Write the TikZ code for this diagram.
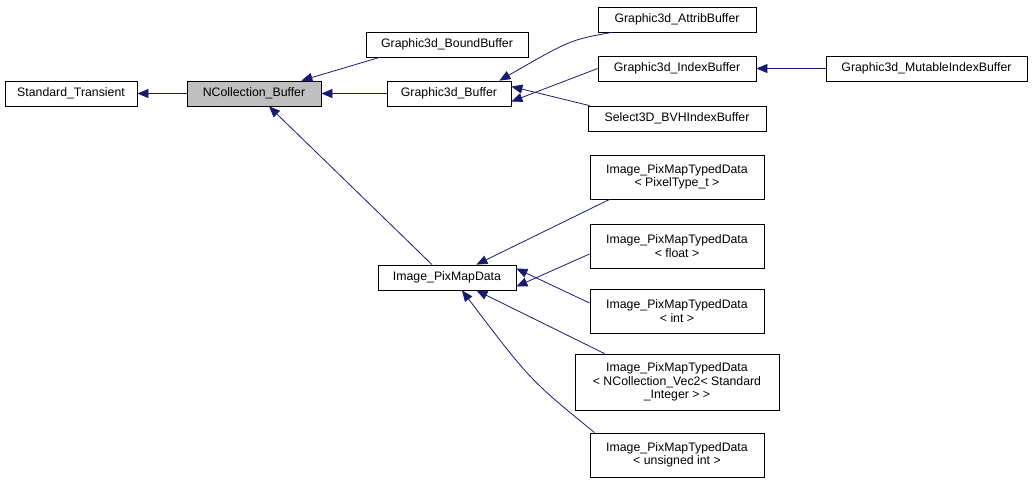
\documentclass[tikz,border=0pt]{standalone}
\usepackage{fontspec}
\setmainfont{Liberation Sans}
\usetikzlibrary{arrows.meta}
\begin{document}
\begin{tikzpicture}[x=1pt,y=-1pt,
  box/.style={draw=black,fill=white,inner sep=0pt,align=center,font=\fontsize{12.3}{13.5}\selectfont,line width=0.8pt},
  e/.style={color={rgb,255:red,25;green,25;blue,112},line width=0.8pt,-{Triangle[length=11pt,width=9pt]}}]
\useasboundingbox (0,0) rectangle (1033,482);
\node[box,minimum width=132,minimum height=25] (st) at (71,93.5) {Standard\_Transient};
\node[box,minimum width=134,minimum height=25,fill={rgb,255:red,191;green,191;blue,191}] (nb) at (254,93.5) {NCollection\_Buffer};
\node[box,minimum width=162,minimum height=25] (bb) at (447,44.5) {Graphic3d\_BoundBuffer};
\node[box,minimum width=124,minimum height=25] (gb) at (449,93.5) {Graphic3d\_Buffer};
\node[box,minimum width=158,minimum height=25] (ab) at (677,19.5) {Graphic3d\_AttribBuffer};
\node[box,minimum width=158,minimum height=25] (ib) at (677,68.5) {Graphic3d\_IndexBuffer};
\node[box,minimum width=201,minimum height=25] (mb) at (926.5,68.5) {Graphic3d\_MutableIndexBuffer};
\node[box,minimum width=178,minimum height=25] (sb) at (677,118.5) {Select3D\_BVHIndexBuffer};
\node[box,minimum width=138,minimum height=25] (pm) at (447,277.5) {Image\_PixMapData};
\node[box,minimum width=174,minimum height=44] (t1) at (677,177) {Image\_PixMapTypedData\\\textless\ PixelType\_t \textgreater};
\node[box,minimum width=174,minimum height=44] (t2) at (677,246) {Image\_PixMapTypedData\\\textless\ float \textgreater};
\node[box,minimum width=174,minimum height=44] (t3) at (677,311) {Image\_PixMapTypedData\\\textless\ int \textgreater};
\node[box,minimum width=204,minimum height=56] (t4) at (677,382) {Image\_PixMapTypedData\\\textless\ NCollection\_Vec2\textless\ Standard\\\_Integer \textgreater\ \textgreater};
\node[box,minimum width=174,minimum height=44] (t5) at (677,455) {Image\_PixMapTypedData\\\textless\ unsigned int \textgreater};
\draw[e] (nb) -- (st);
\draw[e] (bb.south west) ++(14,0) -- ([xshift=-20]nb.north east);
\draw[e] (gb) -- (nb);
\draw[e] (pm.north) ++(-15,0) -- ([xshift=15]nb.south);
\draw[e] (ab.south west) ++(14,0) .. controls (570,40) .. ([xshift=-12]gb.north east);
\draw[e] (ib.west) -- ([yshift=-8]gb.east);
\draw[e] (sb.north west) ++(2,0) -- ([yshift=7]gb.east);
\draw[e] (mb) -- (ib);
\draw[e] (t1.south west) ++(20,0) -- ([xshift=-40]pm.north east);
\draw[e] (t2.west) ++(0,8) -- ([yshift=-9]pm.east);
\draw[e] (t3.west) ++(0,-8) -- ([yshift=9]pm.east);
\draw[e] (t4.north west) ++(30,0) -- ([xshift=-40]pm.south east);
\draw[e] (t5.north west) ++(5,0) .. controls (530,380) .. ([xshift=15]pm.south);
\end{tikzpicture}
\end{document}
